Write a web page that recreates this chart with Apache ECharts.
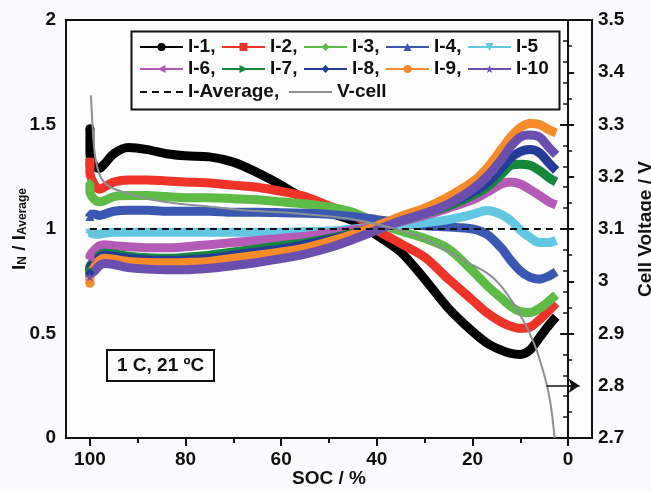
<!DOCTYPE html>
<html><head><meta charset="utf-8">
<script src="https://cdn.jsdelivr.net/npm/echarts@6/dist/echarts.min.js"></script>
<style>html,body{margin:0;padding:0;background:#fafbfd}#c{width:651px;height:491px}</style>
</head><body><div id="c"></div>
<script>
// ---- data ----
const SOC = [100, 100, 99, 98, 97, 95, 92, 88, 84, 80, 75, 70, 65, 60, 55, 50, 45, 40, 35, 30, 25, 20, 17, 14, 12, 10, 8, 6, 4, 2.5];
const I1  = [1.48, 1.36, 1.30, 1.29, 1.31, 1.36, 1.39, 1.38, 1.36, 1.35, 1.345, 1.32, 1.27, 1.21, 1.14, 1.08, 1.04, 0.97, 0.89, 0.76, 0.62, 0.51, 0.455, 0.42, 0.405, 0.40, 0.42, 0.48, 0.54, 0.58];
const I2  = [1.32, 1.27, 1.21, 1.19, 1.20, 1.225, 1.235, 1.235, 1.23, 1.225, 1.22, 1.21, 1.20, 1.18, 1.155, 1.11, 1.07, 0.995, 0.93, 0.865, 0.76, 0.66, 0.60, 0.555, 0.535, 0.525, 0.53, 0.565, 0.61, 0.645];
const I3  = [1.22, 1.18, 1.14, 1.13, 1.135, 1.155, 1.16, 1.16, 1.155, 1.15, 1.15, 1.145, 1.14, 1.13, 1.12, 1.105, 1.08, 1.03, 0.99, 0.955, 0.905, 0.80, 0.73, 0.67, 0.63, 0.605, 0.60, 0.62, 0.655, 0.685];
const I4  = [1.06, 1.07, 1.07, 1.065, 1.07, 1.085, 1.09, 1.09, 1.085, 1.085, 1.085, 1.08, 1.08, 1.078, 1.075, 1.07, 1.06, 1.045, 1.03, 1.015, 1.01, 1.0, 0.975, 0.91, 0.85, 0.80, 0.77, 0.76, 0.775, 0.795];
const I5  = [0.98, 0.985, 0.975, 0.975, 0.98, 0.985, 0.985, 0.985, 0.985, 0.985, 0.985, 0.985, 0.985, 0.985, 0.987, 0.99, 1.0, 1.01, 1.02, 1.03, 1.045, 1.07, 1.088, 1.07, 1.04, 0.995, 0.96, 0.935, 0.935, 0.945];
const I6  = [0.86, 0.87, 0.90, 0.92, 0.925, 0.92, 0.915, 0.91, 0.91, 0.915, 0.925, 0.935, 0.945, 0.955, 0.965, 0.98, 0.995, 1.01, 1.035, 1.065, 1.10, 1.14, 1.175, 1.215, 1.225, 1.215, 1.19, 1.16, 1.13, 1.115];
const I7  = [0.80, 0.82, 0.85, 0.875, 0.885, 0.88, 0.87, 0.862, 0.86, 0.865, 0.875, 0.89, 0.905, 0.92, 0.935, 0.955, 0.98, 1.01, 1.04, 1.075, 1.11, 1.16, 1.20, 1.26, 1.305, 1.31, 1.305, 1.28, 1.245, 1.225];
const I8  = [0.79, 0.81, 0.84, 0.865, 0.875, 0.87, 0.86, 0.852, 0.85, 0.852, 0.86, 0.875, 0.89, 0.905, 0.925, 0.95, 0.975, 1.01, 1.045, 1.08, 1.12, 1.175, 1.22, 1.29, 1.34, 1.37, 1.38, 1.365, 1.315, 1.28];
const I9  = [0.74, 0.78, 0.82, 0.85, 0.86, 0.855, 0.845, 0.84, 0.838, 0.84, 0.845, 0.86, 0.875, 0.89, 0.91, 0.94, 0.975, 1.015, 1.06, 1.10, 1.155, 1.225, 1.29, 1.38, 1.44, 1.485, 1.505, 1.50, 1.475, 1.46];
const I10 = [0.77, 0.78, 0.80, 0.825, 0.835, 0.83, 0.815, 0.808, 0.805, 0.805, 0.812, 0.825, 0.84, 0.858, 0.88, 0.91, 0.95, 0.995, 1.04, 1.075, 1.12, 1.19, 1.25, 1.33, 1.395, 1.44, 1.45, 1.44, 1.39, 1.355];
const AVG_SOC = [100, 2.5];
const AVG = [1, 1];
const V_SOC = [99.8, 99.4, 99.0, 98.5, 97.7, 96.5, 95, 92, 88, 81, 74, 68, 60, 53, 46, 40, 35, 31, 26, 21, 17, 14.4, 11.6, 8.8, 7, 6, 4.4, 3.5, 2.8];
const VCELL = [3.356, 3.29, 3.245, 3.22, 3.198, 3.185, 3.177, 3.168, 3.158, 3.148, 3.142, 3.136, 3.132, 3.127, 3.12, 3.109, 3.097, 3.085, 3.062, 3.036, 3.016, 2.995, 2.96, 2.915, 2.878, 2.852, 2.80, 2.755, 2.70];
const X_MAJOR = [0, 20, 40, 60, 80, 100];
const X_MINOR = [10, 30, 50, 70, 90];
const ARROW_SOC = [4.5, -2.4];
const ARROW_V = 2.8;
const NAMES = ['I-1','I-2','I-3','I-4','I-5','I-6','I-7','I-8','I-9','I-10'];
const COMMA_NAMES = ['I-1','I-2','I-3','I-4','I-6','I-7','I-8','I-9','I-Average'];
const SERIES_VALUES = [I1, I2, I3, I4, I5, I6, I7, I8, I9, I10];
const COLORS = ['#000000','#ee3328','#5dbb46','#3a58b2','#62c8e2','#b45ab7','#15873b','#223c98','#f78a29','#6a4fae'];
const SYMBOLS = ['circle','rect','diamond','triangle','path://M0,0L10,0L5,9Z','path://M0,5L9,0L9,10Z','path://M0,0L9,5L0,10Z','diamond','circle','path://M5,0L6.2,3.5L10,3.8L7,6.1L8.1,10L5,7.7L1.9,10L3,6.1L0,3.8L3.8,3.5Z'];

// ---- chart ----
const FF = '"Liberation Sans", Arial, sans-serif';
const INK = '#111';
const chart = echarts.init(document.getElementById('c'), null, {renderer:'canvas'});
const lbl = {fontFamily:FF, fontWeight:'bold', fontSize:19, color:INK};

const series = SERIES_VALUES.map((vals, k) => ({
  name: NAMES[k], type:'line', xAxisIndex:0, yAxisIndex:0,
  data: SOC.map((s, i) => [s, vals[i]]),
  smooth: 0.3, symbol: SYMBOLS[k], showSymbol: true,
  symbolSize: (v, p) => p.dataIndex === 0 ? 9 : 0,
  lineStyle: {width: 9, color: COLORS[k]}, itemStyle: {color: COLORS[k]},
  emphasis: {disabled: true}, z: 2
}));
series.push({
  name:'I-Average', type:'line', yAxisIndex:0,
  data: AVG_SOC.map((s,i)=>[s, AVG[i]]), symbol:'none',
  lineStyle:{color:'#111', width:2, type:[7,5]}, itemStyle:{color:'#111'}, z:3
});
series.push({
  name:'V-cell', type:'line', yAxisIndex:1,
  data: V_SOC.map((s,i)=>[s, VCELL[i]]), symbol:'none', smooth:0.2,
  lineStyle:{color:'#8c9194', width:2}, itemStyle:{color:'#8c9194'}, z:4,
  markLine:{silent:true, symbol:['none','arrow'], symbolSize:11,
    lineStyle:{color:'#111', width:1.6, type:'solid'}, label:{show:false},
    data:[[{coord:[ARROW_SOC[0], ARROW_V]}, {coord:[ARROW_SOC[1], ARROW_V]}]]}
});

const legendBase = {
  orient:'horizontal', left:139, padding:0, itemGap:0, itemWidth:43, itemHeight:10,
  selectedMode:false,
  textStyle:{fontFamily:FF, fontWeight:'bold', fontSize:19, color:INK, width:33, lineHeight:22},
  lineStyle:{width:2},
  formatter: n => COMMA_NAMES.includes(n) ? n + ',' : n
};
const hidden = {color:'rgba(0,0,0,0)', borderWidth:0};

chart.setOption({
  animation:false,
  backgroundColor:'#fafbfd',
  grid:{left:66, right:59, top:20, bottom:53, containLabel:false, outerBoundsMode:'none',
    show:true, borderColor:INK, borderWidth:2, backgroundColor:'#fdfdfe'},
  title:{text:'1 C, 21 ºC', left:107, top:350, padding:[6,10], borderWidth:2, borderColor:INK,
    textStyle:{fontFamily:FF, fontWeight:'bold', fontSize:19, color:INK}},
  legend:[
    Object.assign({}, legendBase, {top:36, data:NAMES.slice(0,5)}),
    Object.assign({}, legendBase, {top:58, data:NAMES.slice(5,10)}),
    Object.assign({}, legendBase, {top:81, textStyle:Object.assign({}, legendBase.textStyle, {width:100}),
      data:[{name:'I-Average', itemStyle:hidden}, {name:'V-cell', itemStyle:hidden}]})
  ],
  graphic:[{type:'rect', left:129, top:29, shape:{width:428, height:78}, style:{fill:'none', stroke:INK, lineWidth:2}, z:10}],
  xAxis:[
    {type:'value', inverse:true, min:-5, max:105, position:'bottom',
     name:'SOC / %', nameLocation:'middle', nameGap:31, nameMoveOverlap:false, nameTextStyle:lbl,
     axisLine:{lineStyle:{color:INK, width:2}},
     axisTick:{customValues:X_MAJOR, length:8, lineStyle:{color:INK, width:2}},
     axisLabel:Object.assign({customValues:X_MAJOR, margin:12}, lbl),
     splitLine:{show:false}},
    {type:'value', inverse:true, min:-5, max:105, position:'bottom',
     axisLine:{show:false},
     axisTick:{customValues:X_MINOR, length:5, lineStyle:{color:INK, width:2}},
     axisLabel:{show:false}, splitLine:{show:false}}
  ],
  yAxis:[
    {type:'value', min:0, max:2, interval:0.5, position:'left',
     name:'{a|I}{b|N}{a| / I}{b|Average}', nameLocation:'middle', nameGap:37, nameRotate:90,
     nameMoveOverlap:false,
     nameTextStyle:{rich:{
       a:{fontFamily:FF, fontWeight:'bold', fontSize:19, color:INK, lineHeight:24, verticalAlign:'bottom'},
       b:{fontFamily:FF, fontWeight:'bold', fontSize:12, color:INK, lineHeight:14, verticalAlign:'bottom'}}},
     axisLine:{show:true, lineStyle:{color:INK, width:2}},
     axisTick:{show:true, length:8, lineStyle:{color:INK, width:2}},
     minorTick:{show:true, splitNumber:5, length:5, lineStyle:{color:INK, width:1.5}},
     axisLabel:Object.assign({margin:10}, lbl),
     splitLine:{show:false}, minorSplitLine:{show:false}},
    {type:'value', min:2.7, max:3.5, interval:0.1, position:'right',
     name:'Cell Voltage / V', nameLocation:'middle', nameGap:44, nameRotate:90, nameMoveOverlap:false,
     nameTextStyle:lbl,
     axisLine:{show:true, lineStyle:{color:INK, width:2}},
     axisTick:{show:true, length:6, lineStyle:{color:INK, width:2}},
     minorTick:{show:true, splitNumber:2, length:4, lineStyle:{color:INK, width:1.5}},
     axisLabel:Object.assign({margin:6}, lbl),
     splitLine:{show:false}, minorSplitLine:{show:false}}
  ],
  series: series
});
</script></body></html>
